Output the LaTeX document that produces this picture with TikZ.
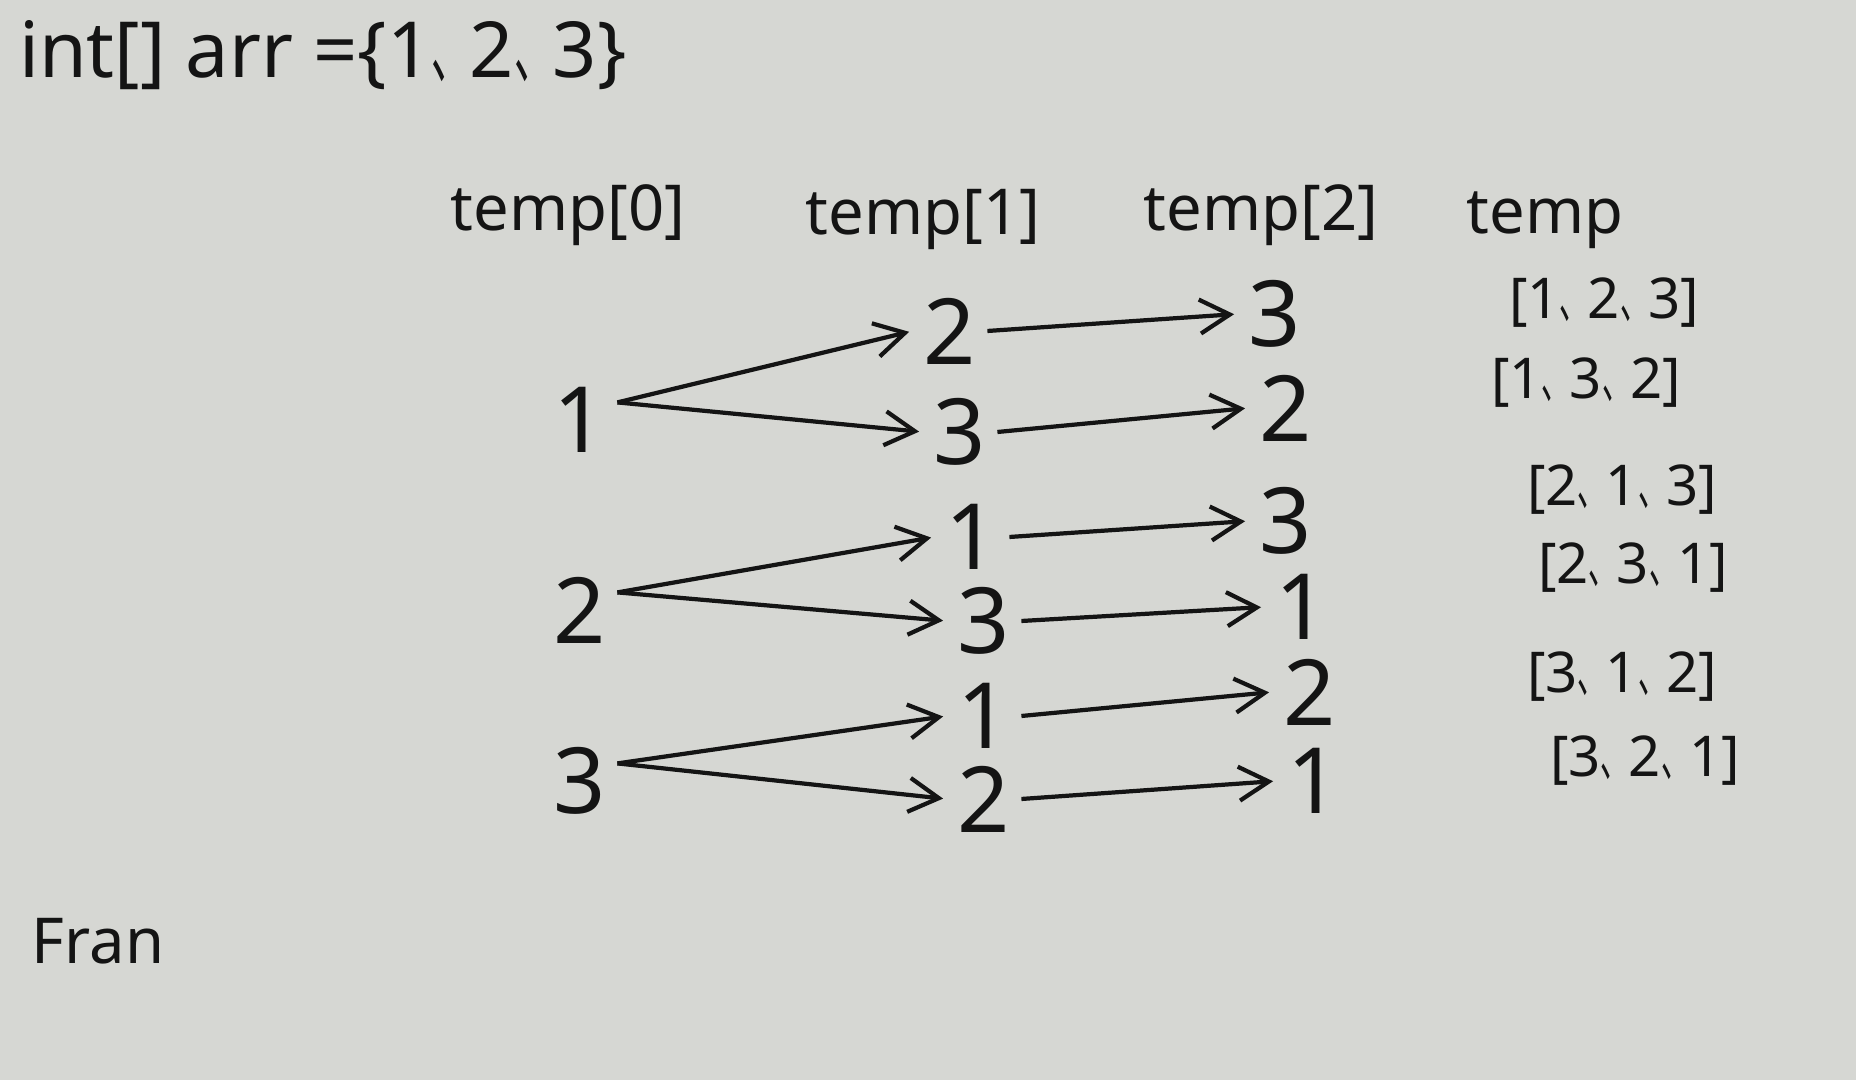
\documentclass[tikz,border=0pt]{standalone}
\usepackage{fontspec}
\usepackage{graphicx}
\setmainfont{Noto Sans}
\newfontfamily\cjk{Noto Sans CJK SC}
\usetikzlibrary{arrows.meta}
\newcommand{\dn}{{\cjk\scalebox{0.5}[1]{、}}}
\definecolor{paper}{RGB}{214,215,211}
\definecolor{ink}{RGB}{20,20,20}
\tikzset{
  lbl/.style={text=ink, font=\fontsize{18}{22}\selectfont, inner sep=1pt},
  num/.style={text=ink, font=\fontsize{26}{30}\selectfont, inner sep=3pt},
  res/.style={text=ink, font=\fontsize{16}{19}\selectfont, inner sep=1pt},
  arr/.style={draw=ink, line width=1.2pt, -{Straight Barb[length=3mm,width=3.4mm,line width=1.2pt]}, shorten >=1pt}
}
\begin{document}
\begin{tikzpicture}[x=0.01cm,y=-0.01cm]
\fill[paper] (0,0) rectangle (1856,1080);
\useasboundingbox (0,0) rectangle (1856,1080);

\node[lbl, anchor=west, font=\fontsize{22}{26}\selectfont] (title) at (15,55) {int[] arr =\{1\dn 2\dn 3\}};

\node[lbl] (h0) at (568,215) {temp[0]};
\node[lbl] (h1) at (923,220) {temp[1]};
\node[lbl] (h2) at (1261,215) {temp[2]};
\node[lbl] (h3) at (1545,220) {temp};

% level 0
\node[num] (a1) at (580,420) {1};
\node[num] (a2) at (580,610) {2};
\node[num] (a3) at (580,781) {3};

% level 1
\node[num] (b1) at (950,331) {2};
\node[num] (b2) at (960,432) {3};
\node[num] (b3) at (972,537) {1};
\node[num] (b4) at (984,621) {3};
\node[num] (b5) at (984,716) {1};
\node[num] (b6) at (984,799) {2};

% level 2
\node[num] (c1) at (1275,314) {3};
\node[num] (c2) at (1286,408) {2};
\node[num] (c3) at (1286,521) {3};
\node[num] (c4) at (1302,607) {1};
\node[num] (c5) at (1310,692) {2};
\node[num] (c6) at (1314,781) {1};

% results
\node[res] (r1) at (1604,303) {[1\dn 2\dn 3]};
\node[res] (r2) at (1586,383) {[1\dn 3\dn 2]};
\node[res] (r3) at (1622,490) {[2\dn 1\dn 3]};
\node[res] (r4) at (1633,568) {[2\dn 3\dn 1]};
\node[res] (r5) at (1622,677) {[3\dn 1\dn 2]};
\node[res] (r6) at (1645,761) {[3\dn 2\dn 1]};

\node[lbl] (sig) at (98,941) {Fran};

% arrows level 0 -> 1
\draw[arr] ([yshift=5pt]a1.east) -- (b1.west);
\draw[arr] ([yshift=5pt]a1.east) -- (b2.west);
\draw[arr] ([yshift=5pt]a2.east) -- (b3.west);
\draw[arr] ([yshift=5pt]a2.east) -- (b4.west);
\draw[arr] ([yshift=5pt]a3.east) -- (b5.west);
\draw[arr] ([yshift=5pt]a3.east) -- (b6.west);

% arrows level 1 -> 2
\draw[arr] (b1.east) -- (c1.west);
\draw[arr] (b2.east) -- (c2.west);
\draw[arr] (b3.east) -- (c3.west);
\draw[arr] (b4.east) -- (c4.west);
\draw[arr] (b5.east) -- (c5.west);
\draw[arr] (b6.east) -- (c6.west);
\end{tikzpicture}
\end{document}
